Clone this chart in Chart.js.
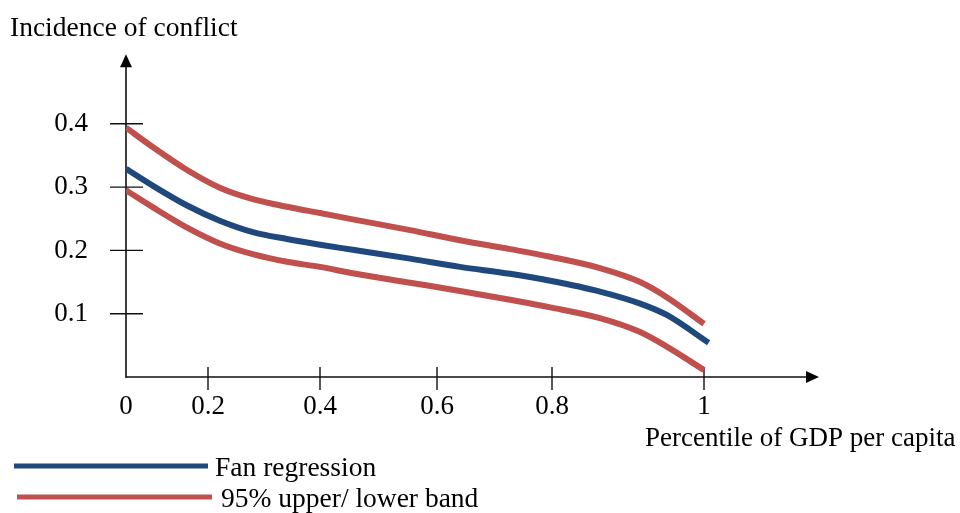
<!DOCTYPE html>
<html>
<head>
<meta charset="utf-8">
<script src="https://cdn.jsdelivr.net/npm/chart.js@4.4.1/dist/chart.umd.min.js"></script>
<style>
  html, body { margin: 0; padding: 0; background: #ffffff; }
  #wrap { width: 960px; height: 513px; position: relative; }
</style>
</head>
<body>
<div id="wrap"><canvas id="c" width="960" height="513"></canvas></div>
<script>
// ---- data ----
const xPercentile = [0, 0.066, 0.149, 0.221, 0.280, 0.341, 0.400, 0.456, 0.554, 0.640, 0.727, 0.797, 0.863, 0.916, 0.951, 1.000];
const xPercentileFan = [0, 0.066, 0.149, 0.221, 0.280, 0.341, 0.400, 0.456, 0.554, 0.640, 0.727, 0.797, 0.863, 0.916, 0.951, 1.008];
const fanRegression = [0.329, 0.302, 0.271, 0.247, 0.229, 0.218, 0.209, 0.201, 0.187, 0.174, 0.163, 0.152, 0.135, 0.116, 0.098, 0.054];
const upperBand = [0.394, 0.363, 0.327, 0.299, 0.281, 0.269, 0.259, 0.249, 0.232, 0.216, 0.202, 0.190, 0.172, 0.150, 0.126, 0.084];
const lowerBand = [0.295, 0.268, 0.236, 0.211, 0.194, 0.182, 0.174, 0.164, 0.149, 0.136, 0.122, 0.110, 0.093, 0.071, 0.048, 0.011];
const xTickValues = [0, 0.2, 0.4, 0.6, 0.8, 1];
const xTickLabels = ['0', '0.2', '0.4', '0.6', '0.8', '1'];
const yTickValues = [0.1, 0.2, 0.3, 0.4];
const yTickLabels = ['0.1', '0.2', '0.3', '0.4'];
const seriesNames = ['Fan regression', '95% upper/ lower band'];
const titleText = 'Incidence of conflict';
const xAxisTitle = 'Percentile of GDP per capita';

// ---- layout / style ----
const BLUE = '#1F497D';
const RED = '#C0504D';
const FONT = '"Liberation Serif", "Times New Roman", serif';
// the reference's x axis is not evenly spaced: value knots -> share of axis length
const knotValues = [0, 0.2, 0.4, 0.6, 0.8, 1, 1.2];
const knotFracs = [0, 82, 194, 311, 426, 578, 693].map(p => p / 693);

function mapPiece(v, from, to) {
  if (v <= from[0]) return to[0] + (v - from[0]) * (to[1] - to[0]) / (from[1] - from[0]);
  for (let i = 1; i < from.length; i++) {
    if (v <= from[i] || i === from.length - 1) {
      const t = (v - from[i - 1]) / (from[i] - from[i - 1]);
      return to[i - 1] + t * (to[i] - to[i - 1]);
    }
  }
  return to[to.length - 1];
}

class PiecewiseLinearScale extends Chart.LinearScale {
  getPixelForValue(value) {
    if (value === null || value === undefined || isNaN(value)) return NaN;
    return this.getPixelForDecimal(mapPiece(value, knotValues, knotFracs));
  }
  getValueForPixel(pixel) {
    return mapPiece(this.getDecimalForPixel(pixel), knotFracs, knotValues);
  }
}
PiecewiseLinearScale.id = 'piecewiseLinear';
PiecewiseLinearScale.defaults = Chart.LinearScale.defaults;
Chart.register(PiecewiseLinearScale);

const toPoints = (xs, ys) => ys.map((y, i) => ({ x: xs[i], y: y }));

const axesPlugin = {
  id: 'axesArrows',
  beforeDatasetsDraw(chart) {
    const { ctx, chartArea, scales } = chart;
    const xs = scales.x, ys = scales.y;
    const x0 = xs.getPixelForValue(0), y0 = ys.getPixelForValue(0);
    ctx.save();
    ctx.strokeStyle = '#111';
    ctx.fillStyle = '#000';
    ctx.lineWidth = 1.6;
    ctx.beginPath();
    ctx.moveTo(x0, y0 + 1);
    ctx.lineTo(x0, chartArea.top + 10);
    ctx.moveTo(x0, y0);
    ctx.lineTo(chartArea.right - 10, y0);
    ctx.stroke();
    // arrow heads
    ctx.beginPath();
    ctx.moveTo(x0, chartArea.top);
    ctx.lineTo(x0 - 6, chartArea.top + 13);
    ctx.lineTo(x0 + 6, chartArea.top + 13);
    ctx.closePath();
    ctx.fill();
    ctx.beginPath();
    ctx.moveTo(chartArea.right, y0);
    ctx.lineTo(chartArea.right - 13, y0 - 6);
    ctx.lineTo(chartArea.right - 13, y0 + 6);
    ctx.closePath();
    ctx.fill();
    // tick marks
    ctx.lineWidth = 1.4;
    ctx.beginPath();
    ys.ticks.forEach(t => {
      const p = ys.getPixelForValue(t.value);
      ctx.moveTo(x0 - 16, p);
      ctx.lineTo(x0 + 17, p);
    });
    xs.ticks.forEach(t => {
      if (t.value === 0) return;
      const p = xs.getPixelForValue(t.value);
      ctx.moveTo(p, y0 - 10);
      ctx.lineTo(p, y0 + 13);
    });
    ctx.stroke();
    ctx.restore();
  },
  afterDraw(chart) {
    const { ctx } = chart;
    const ds = chart.data.datasets;
    ctx.save();
    ctx.fillStyle = '#000';
    ctx.textBaseline = 'alphabetic';
    ctx.textAlign = 'left';
    ctx.font = '27.5px ' + FONT;
    ctx.fillText(titleText, 10, 36);
    ctx.font = '27px ' + FONT;
    ctx.fillText(xAxisTitle, 645, 446);
    ctx.font = '27.5px ' + FONT;
    // legend
    const entries = [
      { color: ds[0].borderColor, label: ds[0].label, x1: 14, x2: 208, y: 466, tx: 215 },
      { color: ds[1].borderColor, label: ds[1].label, x1: 17, x2: 212, y: 497, tx: 221 }
    ];
    entries.forEach(e => {
      ctx.strokeStyle = e.color;
      ctx.lineWidth = 5;
      ctx.beginPath();
      ctx.moveTo(e.x1, e.y);
      ctx.lineTo(e.x2, e.y);
      ctx.stroke();
      ctx.fillText(e.label, e.tx, e.y + 10);
    });
    ctx.restore();
  }
};

new Chart(document.getElementById('c'), {
  type: 'line',
  data: {
    datasets: [
      { label: seriesNames[0], data: toPoints(xPercentileFan, fanRegression), borderColor: BLUE, backgroundColor: BLUE },
      { label: seriesNames[1], data: toPoints(xPercentile, upperBand), borderColor: RED, backgroundColor: RED },
      { label: seriesNames[1], data: toPoints(xPercentile, lowerBand), borderColor: RED, backgroundColor: RED }
    ]
  },
  options: {
    responsive: false,
    animation: false,
    devicePixelRatio: 1,
    layout: { padding: { top: 48, right: 141, left: 0, bottom: 0 } },
    elements: {
      line: { borderWidth: 6, cubicInterpolationMode: 'monotone', borderCapStyle: 'butt', borderJoinStyle: 'round', fill: false },
      point: { radius: 0, hoverRadius: 0 }
    },
    plugins: { legend: { display: false }, title: { display: false }, tooltip: { enabled: false } },
    scales: {
      x: {
        type: 'piecewiseLinear',
        min: 0, max: 1.2,
        grid: { display: false, drawTicks: false },
        border: { display: false },
        afterBuildTicks: s => { s.ticks = xTickValues.map(v => ({ value: v })); },
        afterFit: s => { s.height = 136; },
        ticks: {
          autoSkip: false, maxRotation: 0, padding: 14, color: '#000',
          font: { family: FONT, size: 27 },
          callback: (v, i) => xTickLabels[i]
        }
      },
      y: {
        type: 'linear',
        min: 0, max: 0.51,
        grid: { display: false, drawTicks: false },
        border: { display: false },
        afterBuildTicks: s => { s.ticks = yTickValues.map(v => ({ value: v })); },
        afterFit: s => { s.width = 126; },
        ticks: {
          autoSkip: false, padding: 38, color: '#000',
          font: { family: FONT, size: 27 },
          callback: (v, i) => yTickLabels[i]
        }
      }
    }
  },
  plugins: [axesPlugin]
});
</script>
</body>
</html>
